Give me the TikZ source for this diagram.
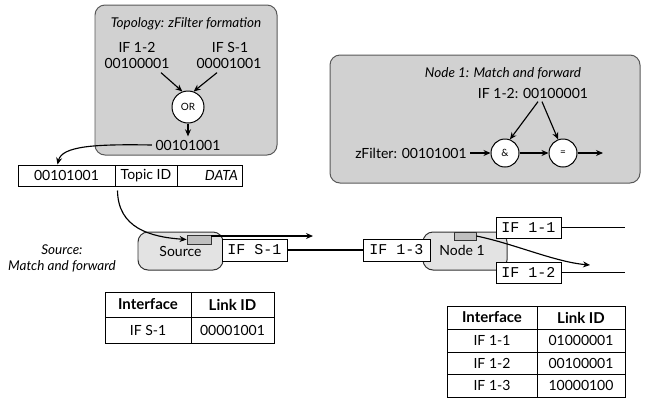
\documentclass[tikz,border=0pt]{standalone}
\usepackage{fontspec}
\setmainfont{Lato}
\setmonofont{Liberation Mono}
\usetikzlibrary{arrows.meta,calc}

\tikzset{
	panel/.style={draw=black!65, fill=black!18, rounded corners=10pt, line width=0.35mm},
	router/.style={draw=black!80, fill=black!11, rounded corners=10pt, line width=0.35mm},
	porttab/.style={draw=black!80, fill=black!25, line width=0.3mm, inner sep=0pt},
	iface/.style={draw, fill=white, line width=0.35mm, inner sep=0pt, minimum width=65pt, minimum height=22pt, font=\ttfamily\fontsize{15}{15}\selectfont},
	cell/.style={draw, line width=0.35mm, inner sep=0pt},
	headcell/.style={cell, font=\fontsize{15}{17}\selectfont\bfseries},
	title/.style={font=\fontsize{13.5}{16}\selectfont\itshape},
	gate/.style={circle, draw, fill=white, line width=0.35mm, inner sep=0pt, font=\fontsize{10}{10}\selectfont},
	flow/.style={-{Stealth[length=7pt,width=6pt]}, line width=0.4mm},
	wire/.style={line width=0.4mm}
}

\begin{document}
\begin{tikzpicture}[x=1pt, y=-1pt, font=\fontsize{14}{16}\selectfont]
		\useasboundingbox (0,0) rectangle (654,405);
		
		%%%%% TOPOLOGY %%%%%
		
		\draw[panel] (95,5) rectangle (277,155);
		
		\node[title] (topotitle) at (186,24) {Topology: zFilter formation};
		\node (ifa) at (137,47) {IF 1-2};
		\node (ida) at (137,63) {00100001};
		\node (ifb) at (230,47) {IF S-1};
		\node (idb) at (229,63) {00001001};
		\node[gate, minimum size=32pt] (orgate) at (188,107) {OR};
		\node (zfilter) at (188,145) {00101001};
		
		\draw[flow] ($(ida.south)+(24,1)$) -- (orgate.110);
		\draw[flow] ($(idb.south)+(-12,1)$) -- (orgate.70);
		\draw[flow] (orgate.south) -- (zfilter.north);
		
		%%%%% PACKET %%%%%
		
		\node[cell, minimum width=97pt, minimum height=21pt] (pkt1) at (66.5,175.5) {00101001};
		\node[cell, minimum width=62pt, minimum height=21pt] (pkt2) at (146,175.5) {Topic ID};
		\node[cell, minimum height=21pt, text width=57pt, inner xsep=4pt, align=right, font=\fontsize{14}{16}\selectfont\itshape] (pkt3) at (209.5,175.5) {DATA};
		
		\draw[flow] (zfilter.west) .. controls (95,144) and (62,146) .. ($(pkt1.north)+(-9,0)$);
		
		%%%%% SOURCE %%%%%
		
		\node[title, align=center] (srclabel) at (62,258) {Source:\\Match and forward};
		
		\node[router, minimum width=85pt, minimum height=38pt] (source) at (180.5,251) {Source};
		\node[porttab, minimum width=24pt, minimum height=9pt] (srctab) at (199,239.5) {};
		\node[iface] (ifs1) at (254.5,250) {IF S-1};
		\coordinate (srcout) at (313,236);
		
		\draw[flow] ($(pkt2.south west)+(3,4)$) .. controls (118,228) and (150,237) .. (srctab.west);
		\draw[flow] ($(srctab.east)+(0,-3.5)$) -- (srcout);
		
		%%%%% NODE 1 %%%%%
		
		\node[router, minimum width=84pt, minimum height=38pt] (node1) at (465,251) {};
		\node (node1text) at (462,250) {Node 1};
		\node[porttab, minimum width=22pt, minimum height=8pt] (n1tab) at (465,236) {};
		\node[iface, minimum width=67pt] (if13) at (396.5,250) {IF 1-3};
		\node[iface, minimum height=21pt] (if11) at (528.5,227.5) {IF 1-1};
		\node[iface, minimum height=21pt] (if12) at (528.5,272.5) {IF 1-2};
		\coordinate (out11) at (625,227.5);
		\coordinate (out12) at (625,272.5);
		\coordinate (n1out) at (590,265);
		
		\draw[wire] (ifs1.east) -- (if13.west);
		\draw[wire] (if11.east) -- (out11);
		\draw[wire] (if12.east) -- (out12);
		\draw[flow] (n1tab.east) .. controls (515,244) and (555,262) .. (n1out);
		
		%%%%% MATCH AND FORWARD %%%%%
		
		\draw[panel] (330,55) rectangle (640,183);
		
		\node[title] (n1title) at (503,73) {Node 1: Match and forward};
		\node (n1link) at (533,93) {IF 1-2: 00100001};
		\node (n1filter) at (411,153) {zFilter: 00101001};
		\node[gate, minimum size=28pt] (andgate) at (505,153) {\&};
		\node[gate, minimum size=28pt] (eqgate) at (563,153) {=};
		\coordinate (eqout) at (603,153);
		
		\draw[flow] (n1filter.east) -- (andgate.west);
		\draw[flow] (andgate.east) -- (eqgate.west);
		\draw[flow] (eqgate.east) -- (eqout);
		\draw[flow] ($(n1link.south)+(5,0)$) -- (andgate.70);
		\draw[flow] ($(n1link.south)+(9,0)$) -- (eqgate.110);
		
		%%%%% TABLES %%%%%
		
		\node[headcell, minimum width=86pt, minimum height=25pt] (srchead1) at (148,304.5) {Interface};
		\node[headcell, minimum width=83pt, minimum height=25pt] (srchead2) at (232.5,304.5) {Link ID};
		\node[cell, minimum width=86pt, minimum height=26pt] (srcrow1a) at (148,330) {IF S-1};
		\node[cell, minimum width=83pt, minimum height=26pt] (srcrow1b) at (232.5,330) {00001001};
		
		\node[headcell, minimum width=90pt, minimum height=23pt] (n1head1) at (492,317.5) {Interface};
		\node[headcell, minimum width=88pt, minimum height=23pt] (n1head2) at (581,317.5) {Link ID};
		\node[cell, minimum width=90pt, minimum height=23pt] (n1row1a) at (492,340.5) {IF 1-1};
		\node[cell, minimum width=88pt, minimum height=23pt] (n1row1b) at (581,340.5) {01000001};
		\node[cell, minimum width=90pt, minimum height=22pt] (n1row2a) at (492,363) {IF 1-2};
		\node[cell, minimum width=88pt, minimum height=22pt] (n1row2b) at (581,363) {00100001};
		\node[cell, minimum width=90pt, minimum height=23pt] (n1row3a) at (492,385.5) {IF 1-3};
		\node[cell, minimum width=88pt, minimum height=23pt] (n1row3b) at (581,385.5) {10000100};
		
	\end{tikzpicture}
\end{document}
